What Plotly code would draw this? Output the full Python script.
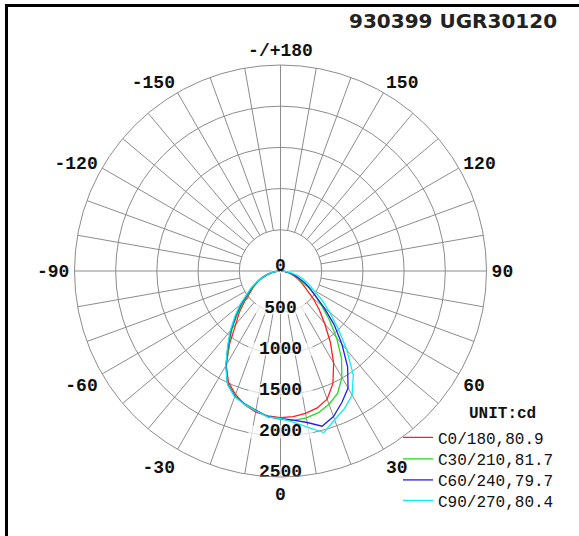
import plotly.graph_objects as go

# ---------------- data ----------------
gamma = [0, 5, 10, 15, 20, 25, 30, 35, 40, 45, 50, 55, 60, 65, 70, 75, 80, 85, 90]

c0 = [1780, 1775, 1755, 1720, 1655, 1505, 1290, 1055, 835, 665, 515, 380, 305, 238, 175, 125, 80, 40, 10]
c180 = [1780, 1765, 1735, 1680, 1595, 1492, 1321, 1075, 845, 705, 565, 443, 376, 310, 243, 175, 110, 50, 10]
c30 = [1800, 1820, 1810, 1780, 1720, 1640, 1490, 1290, 1060, 840, 650, 510, 386, 270, 200, 140, 90, 45, 10]
c210 = [1800, 1775, 1715, 1670, 1615, 1515, 1315, 1095, 915, 740, 600, 470, 386, 296, 225, 160, 100, 50, 10]
c60 = [1790, 1817, 1867, 1950, 1880, 1761, 1640, 1420, 1160, 920, 690, 510, 405, 313, 220, 160, 100, 50, 10]
c240 = [1790, 1775, 1718, 1672, 1620, 1518, 1322, 1110, 935, 765, 625, 490, 400, 310, 235, 170, 110, 50, 10]
c90 = [1790, 1844, 1928, 2030, 1921, 1839, 1738, 1540, 1251, 990, 780, 617, 460, 378, 300, 220, 130, 60, 10]
c270 = [1790, 1778, 1722, 1676, 1625, 1522, 1330, 1120, 950, 785, 645, 505, 412, 320, 245, 175, 115, 55, 10]

series_names = ["C0/180,80.9", "C30/210,81.7", "C60/240,79.7", "C90/270,80.4"]
series_colors = ["#ff2020", "#20dc20", "#2020f0", "#10eeee"]

ring_values = [500, 1000, 1500, 2000, 2500]
radial_labels = ["0", "500", "1000", "1500", "2000", "2500"]
radial_label_values = [0, 500, 1000, 1500, 2000, 2500]
angle_tickvals = [0, 30, 60, 90, 120, 150, 180, 210, 240, 270, 300, 330]
angle_ticktext = ["0", "30", "60", "90", "120", "150", "-/+180", "-150", "-120", "-90", "-60", "-30"]

title_text = "930399 UGR30120"
unit_text = "UNIT:cd"

# ---------------- figure ----------------
W, H = 579, 536
cx, cy, R = 280.5, 271.0, 206.0
GRID = "#8c8c8c"
TICKFONT = dict(family="Liberation Mono", size=18, color="#111111", weight="bold")
LEGFONT = dict(family="Liberation Mono", size=16, color="#111111")

fig = go.Figure()

# spokes every 10 degrees (from inner ring outward; main axes through centre)
sp_r, sp_t = [], []
for a in range(0, 360, 10):
    inner = 0 if a % 90 == 0 else ring_values[0]
    sp_r += [inner, ring_values[-1], None]
    sp_t += [a, a, None]
fig.add_trace(go.Scatterpolar(r=sp_r, theta=sp_t, mode="lines",
                              line=dict(color=GRID, width=1),
                              hoverinfo="skip", showlegend=False, connectgaps=False))

# radial labels sit slightly above (towards the centre of) each ring
lab_shift = 0.02 * ring_values[-1]
lab_r = [abs(v - lab_shift) for v in radial_label_values]
lab_t = [180 if v < lab_shift else 0 for v in radial_label_values]

# white backgrounds behind radial labels
fig.add_trace(go.Scatterpolar(
    r=lab_r, theta=lab_t, mode="markers",
    marker=dict(symbol="line-ew", size=[11 * len(t) + 2 for t in radial_labels],
                line=dict(color="white", width=13), color="white"),
    hoverinfo="skip", showlegend=False))

# curves, each in its own legend row
planes = [(c0, c180), (c30, c210), (c60, c240), (c90, c270)]
legend_ids = ["legend", "legend2", "legend3", "legend4"]
for (right, left), name, col, lg in zip(planes, series_names, series_colors, legend_ids):
    theta = [-g for g in gamma[::-1]] + gamma[1:]
    r = left[::-1] + right[1:]
    fig.add_trace(go.Scatterpolar(r=r, theta=theta, mode="lines", name=name, legend=lg,
                                  line=dict(color=col, width=1.3)))

# radial labels
fig.add_trace(go.Scatterpolar(
    r=lab_r, theta=lab_t, mode="text",
    text=radial_labels, textposition="middle center", textfont=TICKFONT,
    hoverinfo="skip", showlegend=False))

row_y = [437.5, 459, 480, 500.5]
legends = {}
for lg, yy in zip(legend_ids, row_y):
    legends[lg] = dict(x=398 / W, y=1 - yy / H, xanchor="left", yanchor="middle",
                       bgcolor="rgba(0,0,0,0)", font=LEGFONT, borderwidth=0)

fig.update_layout(
    width=W, height=H,
    margin=dict(l=0, r=0, t=0, b=0, autoexpand=False),
    paper_bgcolor="white",
    polar=dict(
        domain=dict(x=[(cx - R) / W, (cx + R) / W], y=[1 - (cy + R) / H, 1 - (cy - R) / H]),
        bgcolor="white",
        radialaxis=dict(range=[0, ring_values[-1]], tickvals=ring_values[:-1],
                        showticklabels=False, ticks="", showline=False,
                        gridcolor=GRID, gridwidth=1),
        angularaxis=dict(rotation=-90, direction="counterclockwise",
                         tickmode="array", tickvals=angle_tickvals, ticktext=angle_ticktext,
                         showgrid=False, showline=True, linecolor=GRID, linewidth=1,
                         ticks="outside", ticklen=1, tickcolor="rgba(0,0,0,0)",
                         tickfont=TICKFONT),
    ),
    showlegend=True,
    **legends,
    annotations=[
        dict(text=title_text, x=559 / W, y=1 - 21 / H, xref="paper", yref="paper",
             xanchor="right", yanchor="middle", showarrow=False,
             font=dict(family="DejaVu Sans", size=20, color="#222222", weight="bold")),
        dict(text=unit_text, x=502 / W, y=1 - 414 / H, xref="paper", yref="paper",
             xanchor="center", yanchor="middle", showarrow=False,
             font=dict(family="Liberation Mono", size=16, color="#111111", weight="bold")),
    ],
    shapes=[
        dict(type="line", xref="paper", yref="paper", x0=6.5 / W, x1=6.5 / W, y0=0, y1=1 - 4 / H,
             line=dict(color="black", width=3)),
        dict(type="line", xref="paper", yref="paper", x0=5 / W, x1=1, y0=1 - 5.5 / H, y1=1 - 5.5 / H,
             line=dict(color="black", width=3)),
    ],
)

fig.write_html("out.html", config={"displayModeBar": False},
               post_script="document.body.style.margin='0px';")
